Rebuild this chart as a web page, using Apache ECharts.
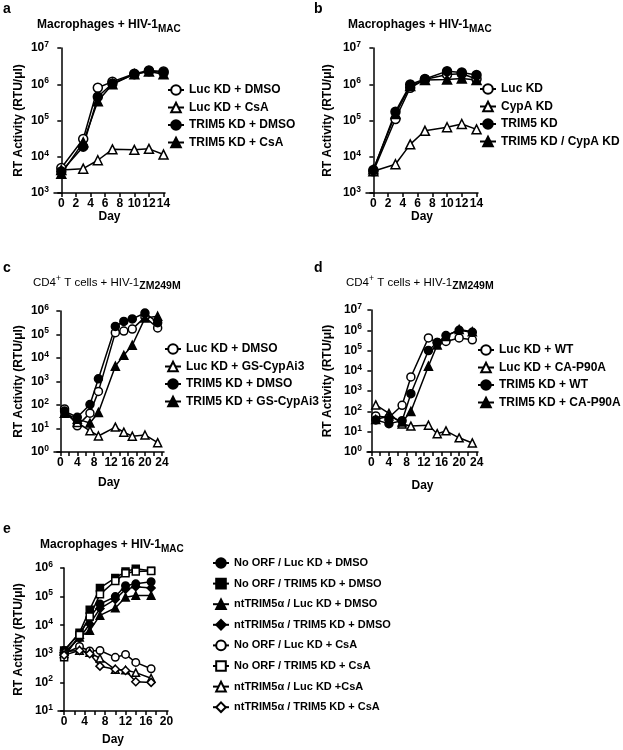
<!DOCTYPE html>
<html><head><meta charset="utf-8">
<script src="https://cdn.jsdelivr.net/npm/echarts@6/dist/echarts.min.js"></script>
<style>html,body{margin:0;padding:0;background:#fff}#c{width:623px;height:750px}</style>
</head><body><div id="c"></div>
<script>
const FONT = '"Liberation Sans", Arial, Helvetica, sans-serif';

// ---------- Panel a ----------
const daysA = [0, 3, 5, 7, 10, 12, 14];
const namesA = ['Luc KD + DMSO', 'Luc KD + CsA', 'TRIM5 KD + DMSO', 'TRIM5 KD + CsA'];
const aLucDMSO = [4900, 31000, 800000, 1180000, 1950000, 2400000, 2250000];
const aLucCsA = [4300, 4700, 8000, 16000, 15500, 16500, 11500];
const aTrimDMSO = [3900, 19000, 450000, 1050000, 1900000, 2300000, 2100000];
const aTrimCsA = [3400, 25000, 340000, 1000000, 1900000, 2250000, 1900000];

// ---------- Panel b ----------
const daysB = [0, 3, 5, 7, 10, 12, 14];
const namesB = ['Luc KD', 'CypA KD', 'TRIM5 KD', 'TRIM5 KD / CypA KD'];
const bLuc = [4000, 110000, 800000, 1350000, 1850000, 1950000, 1400000];
const bCypA = [4000, 6200, 22000, 52000, 65000, 80000, 57000];
const bTrim = [4300, 175000, 980000, 1400000, 2300000, 2100000, 1800000];
const bTrimCypA = [4500, 150000, 900000, 1300000, 1350000, 1450000, 1300000];

// ---------- Panel c ----------
const daysC = [1, 4, 7, 9, 13, 15, 17, 20, 23];
const namesC = ['Luc KD + DMSO ', 'Luc KD + GS-CypAi3', 'TRIM5 KD + DMSO ', 'TRIM5 KD + GS-CypAi3'];
const cLucDMSO = [68, 13, 45, 380, 120000, 140000, 170000, 550000, 190000];
const cLucCypAi = [45, 18, 8, 4.8, 11.5, 7, 4.7, 5.3, 2.5];
const cTrimDMSO = [55, 30, 105, 1300, 220000, 360000, 460000, 820000, 320000];
const cTrimCypAi = [45, 25, 17, 48, 4500, 13000, 35000, 500000, 600000];

// ---------- Panel d ----------
const daysD = [1, 4, 7, 9, 13, 15, 17, 20, 23];
const namesD = ['Luc KD + WT', 'Luc KD + CA-P90A', 'TRIM5 KD + WT', 'TRIM5 KD + CA-P90A'];
const dLucWT = [60, 50, 200, 5000, 420000, 250000, 280000, 420000, 340000];
const dLucP90A = [210, 80, 24, 19, 21, 8, 11, 5, 2.8];
const dTrimWT = [38, 25, 35, 750, 100000, 250000, 550000, 1000000, 800000];
const dTrimP90A = [40, 60, 30, 100, 17000, 190000, 500000, 1100000, 850000];

// ---------- Panel e ----------
const daysE = [0, 3, 5, 7, 10, 12, 14, 17];
const namesE = ['No ORF / Luc KD + DMSO', 'No ORF / TRIM5 KD + DMSO', 'ntTRIM5\u03b1 / Luc KD + DMSO', 'ntTRIM5\u03b1 / TRIM5 KD + DMSO',
                'No ORF / Luc KD + CsA', 'No ORF / TRIM5 KD + CsA', 'ntTRIM5\u03b1 / Luc KD +CsA', 'ntTRIM5\u03b1 / TRIM5 KD + CsA'];
const eNoLucDMSO = [1300, 5000, 18000, 55000, 100000, 240000, 280000, 330000];
const eNoTrimDMSO = [1300, 5500, 35000, 200000, 450000, 750000, 950000, 800000];
const eNtLucDMSO = [1000, 3800, 6500, 22000, 40000, 95000, 110000, 110000];
const eNtTrimDMSO = [1100, 3500, 11000, 38000, 80000, 180000, 220000, 200000];
const eNoLucCsA = [1000, 1800, 1250, 1300, 750, 950, 500, 300];
const eNoTrimCsA = [750, 4500, 20000, 120000, 350000, 650000, 750000, 780000];
const eNtLucCsA = [1200, 1300, 1100, 700, 280, 270, 220, 140];
const eNtTrimCsA = [900, 1300, 1000, 370, 290, 260, 105, 100];

// ---------- tick labels ----------
const xTicksA = [0, 2, 4, 6, 8, 10, 12, 14];
const xTicksC = [0, 2, 4, 6, 8, 10, 12, 14, 16, 18, 20, 22, 24];
const xLabelsC = [0, 4, 8, 12, 16, 20, 24];
const xTicksE = [0, 2, 4, 6, 8, 10, 12, 14, 16, 18, 20];
const xLabelsE = [0, 4, 8, 12, 16, 20];

const BLACK = '#000';
const grids = [
  {left: 54, top: 48, width: 111, height: 145},
  {left: 366, top: 48, width: 112, height: 145},
  {left: 54, top: 311, width: 110, height: 141},
  {left: 367, top: 310, width: 111, height: 142},
  {left: 58, top: 568, width: 110, height: 143}
].map(g => Object.assign({containLabel: false}, g));

function yAxisLog(gi, e0, e1, gap) {
  const vals = [];
  for (let e = e0; e <= e1; e++) vals.push(Math.pow(10, e));
  return {
    type: 'log', logBase: 10, gridIndex: gi, min: Math.pow(10, e0), max: Math.pow(10, e1),
    axisLine: {show: true, lineStyle: {color: BLACK, width: 1.5}},
    axisTick: {show: true, inside: false, length: 4, lineStyle: {color: BLACK, width: 1.5}, customValues: vals},
    minorTick: {show: false},
    splitLine: {show: false},
    axisLabel: {
      customValues: vals, margin: 5,
      formatter: v => '{b|10}{s|' + Math.round(Math.log10(v)) + '}',
      rich: {
        b: {fontSize: 12, fontWeight: 'bold', fontFamily: FONT, color: BLACK, lineHeight: 16},
        s: {fontSize: 8.5, fontWeight: 'bold', fontFamily: FONT, color: BLACK, verticalAlign: 'top', lineHeight: 9}
      }
    },
    name: 'RT Activity (RTU/\u03bcl)', nameLocation: 'middle', nameRotate: 90, nameGap: gap,
    nameTextStyle: {fontSize: 12, fontWeight: 'bold', fontFamily: FONT, color: BLACK}
  };
}
function xAxisLin(gi, min, max, ticks, labels, gap) {
  return {
    type: 'value', gridIndex: gi, min: min, max: max,
    axisLine: {show: true, onZero: false, lineStyle: {color: BLACK, width: 1.5}},
    axisTick: {show: true, length: 4, lineStyle: {color: BLACK, width: 1.5}, customValues: ticks},
    splitLine: {show: false},
    axisLabel: {customValues: labels, margin: 5, fontSize: 12, fontWeight: 'bold', fontFamily: FONT, color: BLACK},
    name: 'Day', nameLocation: 'middle', nameGap: gap,
    nameTextStyle: {fontSize: 12, fontWeight: 'bold', fontFamily: FONT, color: BLACK}
  };
}
function ser(name, gi, days, vals, symbol, filled, size) {
  return {
    type: 'line', name: name, xAxisIndex: gi, yAxisIndex: gi,
    data: days.map((d, i) => [d, vals[i]]),
    symbol: symbol, symbolSize: size, showSymbol: true,
    lineStyle: {color: BLACK, width: 1.5},
    itemStyle: {color: filled ? BLACK : '#fff', borderColor: BLACK, borderWidth: 1.5},
    emphasis: {disabled: true}, silent: true
  };
}
function legend(names, left, top, gap, fs) {
  return {
    data: names, orient: 'vertical', left: left, top: top, itemGap: gap,
    itemWidth: 16, itemHeight: 12, selectedMode: false, padding: 0,
    textStyle: {fontSize: fs, fontWeight: 'bold', fontFamily: FONT, color: BLACK, lineHeight: 14}
  };
}
const tMain = (fs, w) => ({fontSize: fs, fontWeight: w, fontFamily: FONT, color: BLACK, lineHeight: 18});
const tSub = fs => ({fontSize: fs, fontWeight: 'bold', fontFamily: FONT, color: BLACK, verticalAlign: 'bottom', lineHeight: 10});
const tSup = fs => ({fontSize: fs, fontWeight: 'normal', fontFamily: FONT, color: BLACK, verticalAlign: 'top', lineHeight: 9});
function macTitle(left, top) {
  return {text: '{m|Macrophages + HIV-1}{s|MAC}', left: left, top: top, padding: 0,
    textStyle: {rich: {m: tMain(12, 'bold'), s: tSub(10)}}};
}
function cdTitle(left, top) {
  return {text: '{m|CD4}{p|+}{m| T cells + HIV-1}{s|ZM249M}', left: left, top: top, padding: 0,
    textStyle: {rich: {m: tMain(11.5, 'normal'), p: tSup(8.5), s: tSub(10.5)}}};
}
function letter(t, left, top) {
  return {text: t, left: left, top: top, padding: 0,
    textStyle: {fontSize: 14, fontWeight: 'bold', fontFamily: FONT, color: BLACK}};
}

const series = [
  ser(namesA[0], 0, daysA, aLucDMSO, 'circle', false, 9),
  ser(namesA[1], 0, daysA, aLucCsA, 'triangle', false, 9),
  ser(namesA[2], 0, daysA, aTrimDMSO, 'circle', true, 9),
  ser(namesA[3], 0, daysA, aTrimCsA, 'triangle', true, 9),
  ser(namesB[0], 1, daysB, bLuc, 'circle', false, 9),
  ser(namesB[1], 1, daysB, bCypA, 'triangle', false, 9),
  ser(namesB[2], 1, daysB, bTrim, 'circle', true, 9),
  ser(namesB[3], 1, daysB, bTrimCypA, 'triangle', true, 9),
  ser(namesC[0], 2, daysC, cLucDMSO, 'circle', false, 8),
  ser(namesC[1], 2, daysC, cLucCypAi, 'triangle', false, 8),
  ser(namesC[2], 2, daysC, cTrimDMSO, 'circle', true, 8),
  ser(namesC[3], 2, daysC, cTrimCypAi, 'triangle', true, 8),
  ser(namesD[0], 3, daysD, dLucWT, 'circle', false, 8),
  ser(namesD[1], 3, daysD, dLucP90A, 'triangle', false, 8),
  ser(namesD[2], 3, daysD, dTrimWT, 'circle', true, 8),
  ser(namesD[3], 3, daysD, dTrimP90A, 'triangle', true, 8),
  ser(namesE[0], 4, daysE, eNoLucDMSO, 'circle', true, 7.5),
  ser(namesE[1], 4, daysE, eNoTrimDMSO, 'rect', true, 7),
  ser(namesE[2], 4, daysE, eNtLucDMSO, 'triangle', true, 7.5),
  ser(namesE[3], 4, daysE, eNtTrimDMSO, 'diamond', true, 8),
  ser(namesE[4], 4, daysE, eNoLucCsA, 'circle', false, 7.5),
  ser(namesE[5], 4, daysE, eNoTrimCsA, 'rect', false, 7),
  ser(namesE[6], 4, daysE, eNtLucCsA, 'triangle', false, 7.5),
  ser(namesE[7], 4, daysE, eNtTrimCsA, 'diamond', false, 8)
];

const option = {
  animation: false,
  backgroundColor: '#fff',
  title: [
    letter('a', 3, 2), letter('b', 314, 2), letter('c', 3, 261), letter('d', 314, 261), letter('e', 3, 522),
    macTitle(37, 16), macTitle(348, 16), cdTitle(33, 274), cdTitle(346, 274), macTitle(40, 536)
  ],
  grid: grids,
  xAxis: [
    xAxisLin(0, -1, 14.2, xTicksA, xTicksA, 18),
    xAxisLin(1, -1, 14.2, xTicksA, xTicksA, 18),
    xAxisLin(2, -1.5, 24.5, xTicksC, xLabelsC, 25),
    xAxisLin(3, -1, 24.3, xTicksC, xLabelsC, 28),
    xAxisLin(4, -1.2, 20.3, xTicksE, xLabelsE, 23)
  ],
  yAxis: [
    yAxisLog(0, 3, 7, 29), yAxisLog(1, 3, 7, 32), yAxisLog(2, 0, 6, 29),
    yAxisLog(3, 0, 7, 33), yAxisLog(4, 1, 6, 33)
  ],
  legend: [
    legend(namesA, 167, 83, 3.5, 12),
    legend(namesB, 479, 82, 3.5, 12),
    legend(namesC, 164, 342, 3.5, 12),
    legend(namesD, 477, 343, 3.5, 12),
    legend(namesE, 212, 556, 6.6, 11)
  ],
  series: series
};
const chart = echarts.init(document.getElementById('c'), null, {renderer: 'canvas'});
chart.setOption(option);
</script></body></html>
